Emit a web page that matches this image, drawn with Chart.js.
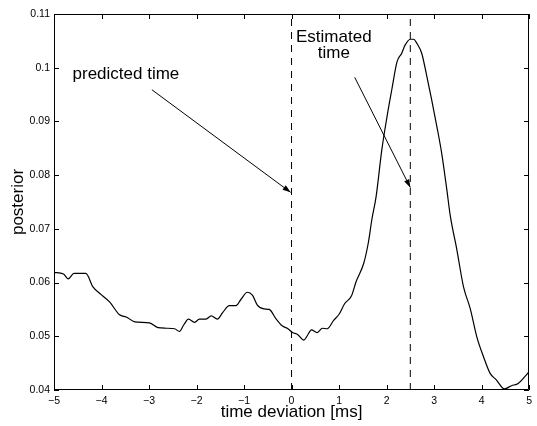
<!DOCTYPE html>
<html>
<head>
<meta charset="utf-8">
<script src="https://cdn.jsdelivr.net/npm/chart.js@4.4.0/dist/chart.umd.min.js"></script>
<style>
  html, body { margin: 0; padding: 0; background: #fff; }
  canvas { display: block; }
</style>
</head>
<body>
<canvas id="chart" width="537" height="426"></canvas>
<script>
// posterior curve
const timeDeviation = [
  -5.00, -4.80, -4.70, -4.58, -4.33, -4.18, -4.00, -3.83, -3.62, -3.48,
  -3.30, -2.99, -2.81, -2.64, -2.46, -2.36, -2.27, -2.17, -2.04, -1.94,
  -1.80, -1.69, -1.56, -1.45, -1.31, -1.17, -1.07, -0.93, -0.82, -0.72,
  -0.58, -0.47, -0.33, -0.19, -0.09, 0.02, 0.12, 0.26, 0.33, 0.42,
  0.54, 0.65, 0.75, 0.89, 1.00, 1.12, 1.26, 1.36, 1.52, 1.62,
  1.69, 1.78, 1.90, 2.01, 2.11, 2.22, 2.32, 2.39, 2.50, 2.57,
  2.64, 2.74, 2.85, 2.95, 3.06, 3.16, 3.27, 3.34, 3.48, 3.62,
  3.76, 3.90, 4.04, 4.18, 4.31, 4.48, 4.63, 4.77, 4.91, 5.00
];
const posterior = [
  0.0619, 0.0616, 0.0607, 0.0617, 0.0617, 0.0592, 0.0577, 0.0564, 0.0540, 0.0536,
  0.0527, 0.0525, 0.0516, 0.0515, 0.0514, 0.0509, 0.0521, 0.0532, 0.0526, 0.0532,
  0.0532, 0.0538, 0.0532, 0.0544, 0.0557, 0.0557, 0.0568, 0.0582, 0.0576, 0.0558,
  0.0551, 0.0550, 0.0533, 0.0519, 0.0515, 0.0507, 0.0504, 0.0493, 0.0501, 0.0512,
  0.0507, 0.0515, 0.0514, 0.0530, 0.0541, 0.0561, 0.0575, 0.0602, 0.0636, 0.0676,
  0.0717, 0.0760, 0.0847, 0.0909, 0.0959, 0.1011, 0.1027, 0.1042, 0.1053, 0.1053,
  0.1045, 0.1027, 0.0983, 0.0940, 0.0890, 0.0841, 0.0772, 0.0725, 0.0661, 0.0592,
  0.0552, 0.0499, 0.0462, 0.0431, 0.0419, 0.0402, 0.0408, 0.0412, 0.0425, 0.0434
];

const xTicks = [-5, -4, -3, -2, -1, 0, 1, 2, 3, 4, 5];
const yTicks = [0.04, 0.05, 0.06, 0.07, 0.08, 0.09, 0.1, 0.11];

// vertical dashed markers
const predictedTime = 0;
const estimatedTime = 2.5;

// annotation arrows: [x0, y0, x1, y1] in data units
const predictedArrow = [-2.94, 0.0959, -0.02, 0.0768];
const estimatedArrow = [1.33, 0.0982, 2.50, 0.0777];

// annotation texts: [text, x, y, align]
const labels = [
  ['predicted time', -4.61, 0.0979, 'left'],
  ['Estimated', 0.89, 0.1048, 'center'],
  ['time', 0.89, 0.1018, 'center']
];

const FONT = "'Liberation Sans', Arial, Helvetica, sans-serif";

const seg = (a) => [{x: a[0], y: a[1]}, {x: a[2], y: a[3]}];

const fmt = (v) => {
  const s = String(+(+v).toFixed(2));
  return s.replace('-', '\u2212');
};

const framePlugin = {
  id: 'frame',
  afterDatasetsDraw(chart) {
    const {ctx, chartArea: a, scales: {x, y}} = chart;
    ctx.save();
    ctx.strokeStyle = '#000';
    ctx.lineWidth = 1;
    ctx.beginPath();
    ctx.rect(Math.round(a.left) + 0.5, Math.round(a.top) + 0.5,
             Math.round(a.right - a.left) - 1, Math.round(a.bottom - a.top) - 1);
    ctx.stroke();

    // inward ticks on all four sides
    const t = 5;
    ctx.beginPath();
    xTicks.forEach(v => {
      const px = Math.round(x.getPixelForValue(v)) + 0.5;
      ctx.moveTo(px, a.bottom); ctx.lineTo(px, a.bottom - t);
      ctx.moveTo(px, a.top); ctx.lineTo(px, a.top + t);
    });
    yTicks.forEach(v => {
      const py = Math.round(y.getPixelForValue(v)) + 0.5;
      ctx.moveTo(a.left, py); ctx.lineTo(a.left + t, py);
      ctx.moveTo(a.right, py); ctx.lineTo(a.right - t, py);
    });
    ctx.stroke();

    // arrow heads
    ctx.fillStyle = '#000';
    [predictedArrow, estimatedArrow].forEach(arr => {
      const x0 = x.getPixelForValue(arr[0]), y0 = y.getPixelForValue(arr[1]);
      const x1 = x.getPixelForValue(arr[2]), y1 = y.getPixelForValue(arr[3]);
      const ang = Math.atan2(y1 - y0, x1 - x0);
      const len = 8, half = 2.8;
      const bx = x1 - len * Math.cos(ang), by = y1 - len * Math.sin(ang);
      ctx.beginPath();
      ctx.moveTo(x1, y1);
      ctx.lineTo(bx + half * Math.sin(ang), by - half * Math.cos(ang));
      ctx.lineTo(bx - half * Math.sin(ang), by + half * Math.cos(ang));
      ctx.closePath();
      ctx.fill();
    });

    // annotation texts
    ctx.font = '17px ' + FONT;
    ctx.textBaseline = 'alphabetic';
    labels.forEach(([txt, tx, ty, align]) => {
      ctx.textAlign = align;
      ctx.fillText(txt, x.getPixelForValue(tx), y.getPixelForValue(ty));
    });
    ctx.restore();
  }
};

new Chart(document.getElementById('chart'), {
  type: 'line',
  data: {
    datasets: [
      {
        data: timeDeviation.map((t, i) => ({x: t, y: posterior[i]})),
        borderColor: '#000',
        borderWidth: 1.2,
        pointRadius: 0,
        cubicInterpolationMode: 'monotone'
      },
      {
        data: [{x: predictedTime, y: 0.04}, {x: predictedTime, y: 0.11}],
        borderColor: '#000',
        borderWidth: 1,
        borderDash: [7, 6],
        pointRadius: 0
      },
      {
        data: [{x: estimatedTime, y: 0.04}, {x: estimatedTime, y: 0.11}],
        borderColor: '#000',
        borderWidth: 1,
        borderDash: [7, 6],
        pointRadius: 0
      },
      {
        data: seg(predictedArrow),
        borderColor: '#000',
        borderWidth: 1,
        pointRadius: 0
      },
      {
        data: seg(estimatedArrow),
        borderColor: '#000',
        borderWidth: 1,
        pointRadius: 0
      }
    ]
  },
  options: {
    responsive: false,
    animation: false,
    layout: { padding: { left: 0, top: 14, right: 6, bottom: 0 } },
    plugins: {
      legend: { display: false },
      tooltip: { enabled: false }
    },
    scales: {
      x: {
        type: 'linear',
        min: -5,
        max: 5,
        afterBuildTicks: (s) => { s.ticks = xTicks.map(v => ({value: v})); },
        afterFit: (s) => { s.height = 36; },
        grid: { display: false, drawTicks: false },
        border: { display: false },
        ticks: {
          color: '#000',
          padding: 5,
          maxRotation: 0,
          font: { family: FONT, size: 10.5 },
          callback: fmt
        },
        title: {
          display: true,
          text: 'time deviation [ms]',
          color: '#000',
          font: { family: FONT, size: 17 },
          padding: { top: 0, bottom: 3 }
        }
      },
      y: {
        min: 0.04,
        max: 0.11,
        afterBuildTicks: (s) => { s.ticks = yTicks.map(v => ({value: v})); },
        afterFit: (s) => { s.width = 54; },
        grid: { display: false, drawTicks: false },
        border: { display: false },
        ticks: {
          color: '#000',
          padding: 4,
          font: { family: FONT, size: 10.5 },
          callback: fmt
        },
        title: {
          display: true,
          text: 'posterior',
          color: '#000',
          font: { family: FONT, size: 17 },
          padding: { top: 8, bottom: 0 }
        }
      }
    }
  },
  plugins: [framePlugin]
});
</script>
</body>
</html>
